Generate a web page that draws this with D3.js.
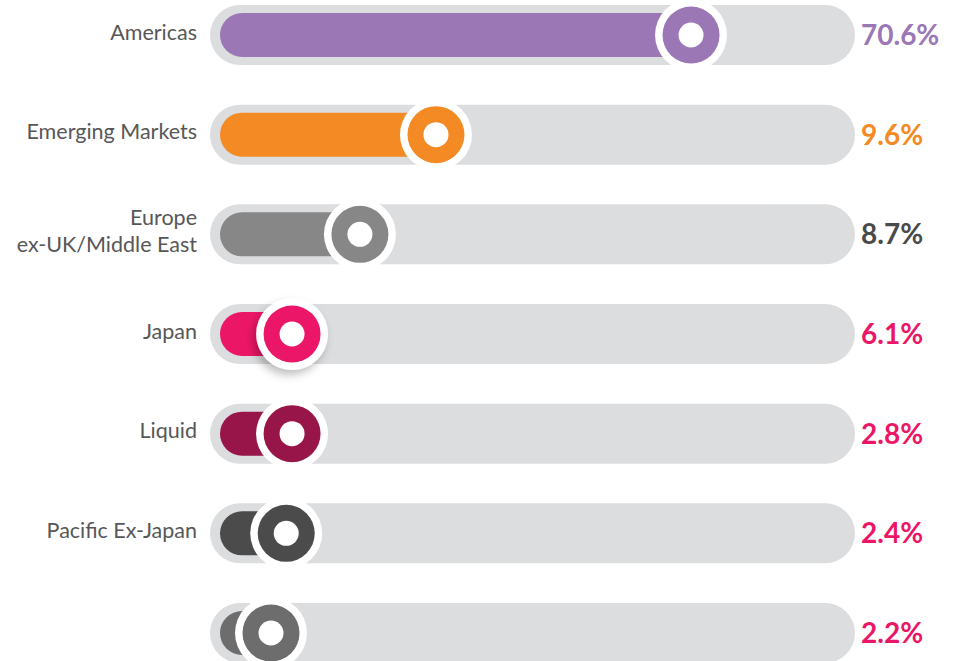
<!DOCTYPE html>
<html>
<head>
<meta charset="utf-8">
<script src="https://cdn.jsdelivr.net/npm/d3@7"></script>
<style>
  html, body { margin: 0; padding: 0; background: #fff; }
  svg { display: block; font-family: Lato, "Open Sans", sans-serif; }
</style>
</head>
<body>
<div id="chart"></div>
<script>
// region labels (last row has no visible label in the source)
const regions = ["Americas", "Emerging Markets", "Europe\nex-UK/Middle East", "Japan", "Liquid", "Pacific Ex-Japan", ""];
const shares = [70.6, 9.6, 8.7, 6.1, 2.8, 2.4, 2.2];
// how far the knob sits along the track (% of track)
const gaugeLevel = [77.1, 33.5, 20.5, 8.9, 8.9, 7.9, 5.3];
const barColors = ["#9b78b5", "#f38a24", "#878787", "#ec1667", "#971549", "#4b4b4b", "#6d6d6d"];
const valueColors = ["#9b78b5", "#f38a24", "#4a4a4a", "#ec1667", "#ec1667", "#ec1667", "#ec1667"];

const W = 957, H = 661;
const trackLeft = 210, trackRight = 855, trackH = 60, inset = 8;

const rows = regions.map((name, i) => ({
    name, share: shares[i], level: gaugeLevel[i], color: barColors[i], valueColor: valueColors[i], i
}));

const svg = d3.select("#chart").append("svg").attr("width", W).attr("height", H);

const defs = svg.append("defs");
const shadow = defs.append("filter").attr("id", "knobShadow")
    .attr("x", "-50%").attr("y", "-50%").attr("width", "200%").attr("height", "200%");
shadow.append("feDropShadow").attr("dx", -3).attr("dy", 5).attr("stdDeviation", 4)
    .attr("flood-color", "#000").attr("flood-opacity", 0.25);

const y = d3.scalePoint().domain(rows.map(d => d.i)).range([35, 633]);
const x = d3.scaleLinear().domain([0, 100]).range([trackLeft + trackH / 2, trackRight - trackH / 2]);

const row = svg.selectAll(".row").data(rows).join("g")
    .attr("class", "row")
    .attr("transform", d => `translate(0,${y(d.i)})`);

// grey track
row.append("rect")
    .attr("x", trackLeft).attr("y", -trackH / 2)
    .attr("width", trackRight - trackLeft).attr("height", trackH)
    .attr("rx", trackH / 2).attr("fill", "#dcdddf");

// coloured fill running up to the knob
row.append("rect")
    .attr("x", trackLeft + 10).attr("y", -trackH / 2 + inset)
    .attr("width", d => x(d.level) - trackLeft - 10).attr("height", trackH - inset * 2)
    .attr("rx", (trackH - inset * 2) / 2).attr("fill", d => d.color);

// knob: white ring, coloured disc, white hole
const knob = row.append("g")
    .attr("transform", d => `translate(${x(d.level)},0)`)
    .attr("filter", d => d.name === "Japan" ? "url(#knobShadow)" : null);
knob.append("circle").attr("r", 36).attr("fill", "#fff");
knob.append("circle").attr("r", 28.5).attr("fill", d => d.color);
knob.append("circle").attr("r", 12.5).attr("fill", "#fff");

// category labels on the left
row.append("text")
    .attr("text-anchor", "end")
    .attr("fill", "#575757")
    .style("font-size", "21.5px")
    .each(function (d) {
        const lines = d.name.split("\n");
        const t = d3.select(this);
        lines.forEach((ln, k) => {
            t.append("tspan")
                .attr("x", 197)
                .attr("y", (k - (lines.length - 1) / 2) * 27 - 3)
                .attr("dy", "0.35em")
                .text(ln);
        });
    });

// value labels on the right
row.append("text")
    .attr("x", 861).attr("dy", "0.36em")
    .attr("fill", d => d.valueColor)
    .style("font-size", "28px").style("font-weight", "700")
    .text(d => d.share.toFixed(1) + "%");
</script>
</body>
</html>
